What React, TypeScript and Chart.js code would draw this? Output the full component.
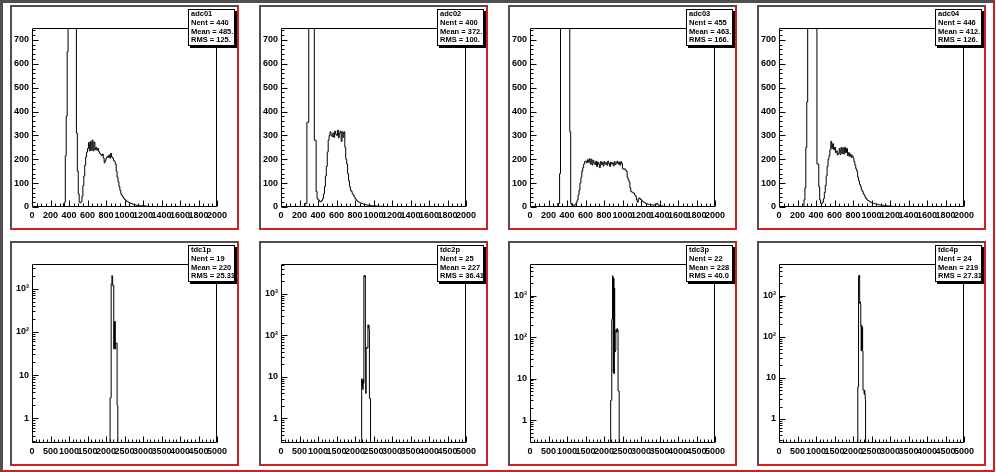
import React, { useEffect, useRef } from "react";
import { Chart, registerables } from "chart.js";

Chart.register(...registerables);

// ---------- data ----------
const BIN_WIDTH = 10;

const ADC_X_MIN = 0;
const ADC_X_MAX = 2000;
const ADC_Y_MIN = 0;
const ADC_Y_MAX = 750;
const ADC_X_TICKS = [0, 200, 400, 600, 800, 1000, 1200, 1400, 1600, 1800, 2000];
const ADC_Y_TICKS = [0, 100, 200, 300, 400, 500, 600, 700];
const ADC_X_MINOR_STEP = 50;
const ADC_Y_MINOR_STEP = 20;

const TDC_X_MIN = 0;
const TDC_X_MAX = 5000;
const TDC_X_TICKS = [0, 500, 1000, 1500, 2000, 2500, 3000, 3500, 4000, 4500, 5000];
const TDC_X_MINOR_STEP = 100;
const TDC_Y_TICKS = [1, 10, 100, 1000];
const TDC_Y_TICK_TEXT = ["1", "10", "10²", "10³"];
const TDC_Y_MIN = [0.27, 0.256, 0.28, 0.26];
const TDC_Y_MAX = [3700, 5250, 5750, 5850];

const ADC01_START = 340;
const ADC01 = [
  0, 15, 20, 215, 380, 650, 1200, 1800, 2300, 2500, 2400, 2100, 1700, 1300, 900, 310,
  150, 55, 20, 18, 22, 45, 90, 130, 175, 210, 230, 245, 270, 235, 275, 238, 280, 235,
  272, 240, 250, 238, 245, 232, 225, 220, 215, 222, 205, 185, 195, 205, 212, 208, 218,
  205, 225, 210, 205, 195, 190, 180, 150, 125, 105, 85, 70, 55, 47, 42, 36, 32, 28, 25,
  22, 20, 18, 16, 15, 13, 11, 10, 9, 8, 7, 7, 6, 6, 5, 5, 5, 4, 5, 4, 3, 3, 3, 2, 2, 2,
  2, 1, 2, 1, 1, 0,
];

const ADC02_START = 260;
const ADC02 = [
  0, 15, 15, 355, 355, 1500, 2200, 2600, 2500, 2000, 1400, 280, 280, 65, 35, 30, 28, 22,
  22, 28, 36, 55, 85, 130, 170, 230, 280, 300, 315, 300, 295, 310, 292, 318, 305, 300,
  322, 290, 310, 318, 275, 315, 292, 315, 250, 200, 180, 140, 110, 85, 70, 65, 55, 50,
  42, 35, 30, 26, 22, 20, 18, 16, 15, 13, 12, 11, 10, 9, 8, 8, 7, 6, 6, 5, 5, 5, 4, 5,
  4, 3, 3, 3, 2, 3, 2, 1, 1, 0,
];

const ADC03_START = 300;
const ADC03 = [
  0, 15, 15, 140, 1100, 1600, 2000, 2100, 2000, 1800, 1500, 1200, 1000, 800, 315, 15, 8,
  8, 7, 8, 12, 20, 30, 50, 70, 100, 125, 150, 165, 180, 190, 192, 185, 198, 188, 202,
  180, 200, 176, 195, 185, 178, 192, 170, 188, 180, 165, 190, 178, 188, 172, 190, 180,
  186, 175, 192, 182, 170, 188, 180, 185, 172, 190, 178, 185, 192, 180, 188, 175, 190,
  182, 160, 158, 160, 155, 150, 125, 115, 105, 80, 65, 62, 60, 58, 50, 45, 30, 20, 35,
  38, 32, 30, 25, 22, 20, 17, 15, 14, 12, 11, 11, 10, 9, 8, 8, 9, 10, 12, 15, 10, 7, 5,
  5, 4, 4, 3, 3, 2, 3, 2, 2, 1, 2, 1, 1, 0,
];

const ADC04_START = 270;
const ADC04 = [
  0, 30, 80, 250, 440, 1000, 1600, 2100, 2400, 2300, 2000, 1600, 1200, 900, 800, 180,
  180, 85, 30, 15, 15, 20, 35, 60, 90, 130, 170, 200, 215, 240, 275, 245, 265, 240, 250,
  228, 235, 218, 225, 245, 220, 250, 225, 248, 222, 250, 228, 245, 215, 228, 212, 222,
  208, 215, 205, 190, 175, 160, 150, 125, 110, 95, 85, 72, 65, 55, 50, 40, 35, 30, 27,
  25, 22, 20, 18, 16, 15, 14, 13, 12, 11, 10, 9, 9, 8, 8, 7, 6, 6, 5, 5, 5, 4, 4, 3, 3,
  3, 2, 2, 2, 2, 1, 2, 1, 1, 1, 0,
];

const TDC1_START = 2110;
const TDC1 = [0, 3, 3, 3, 1300, 1300, 2000, 1900, 1200, 1150, 1200, 40, 170, 45, 175, 40, 55, 55, 55, 55, 2, 2, 0];

const TDC2_START = 2180;
const TDC2 = [0, 9, 6, 8, 5, 9, 7, 2700, 2800, 2600, 2750, 38, 4, 50, 48, 52, 50, 50, 180, 150, 175, 140, 3, 3, 3, 0];

const TDC3_START = 2180;
const TDC3 = [0, 3, 3, 3, 260, 270, 3000, 2800, 14, 2600, 13, 1500, 46, 44, 48, 150, 145, 130, 160, 140, 150, 5, 5, 5, 0];

const TDC4_START = 2130;
const TDC4 = [0, 6, 6, 3000, 2900, 3100, 650, 700, 600, 180, 45, 190, 50, 170, 45, 5, 5, 5, 4, 5, 4, 3, 0];

const HIST_NAMES = ["adc01", "adc02", "adc03", "adc04", "tdc1p", "tdc2p", "tdc3p", "tdc4p"];
const HIST_ENTRIES = ["440", "400", "455", "446", "19", "25", "22", "24"];
const HIST_MEANS = ["485.", "372.", "463.", "412.", "220", "227", "228", "219"];
const HIST_RMS = ["125.", "100.", "166.", "126.", "25.31", "36.41", "40.0", "27.31"];

// ---------- layout / style ----------
const PAD_LEFT = [10, 259, 508, 757];
const PAD_TOP = [5, 241];
const PAD_W = 229;
const PAD_H = 225;
const FRAME_L = 22;
const FRAME_R = 22;
const FRAME_T = 23;
const FRAME_B = 23;
const GRAY = "#4f4f4f";
const RED = "#cf1f1f";
const FONT_FAMILY = "'Liberation Sans', Arial, Helvetica, sans-serif";

type PadSpec = {
  idx: number;
  log: boolean;
  start: number;
  values: number[];
  yMin: number;
  yMax: number;
};

const PADS: PadSpec[] = [
  { idx: 0, log: false, start: ADC01_START, values: ADC01, yMin: ADC_Y_MIN, yMax: ADC_Y_MAX },
  { idx: 1, log: false, start: ADC02_START, values: ADC02, yMin: ADC_Y_MIN, yMax: ADC_Y_MAX },
  { idx: 2, log: false, start: ADC03_START, values: ADC03, yMin: ADC_Y_MIN, yMax: ADC_Y_MAX },
  { idx: 3, log: false, start: ADC04_START, values: ADC04, yMin: ADC_Y_MIN, yMax: ADC_Y_MAX },
  { idx: 4, log: true, start: TDC1_START, values: TDC1, yMin: TDC_Y_MIN[0], yMax: TDC_Y_MAX[0] },
  { idx: 5, log: true, start: TDC2_START, values: TDC2, yMin: TDC_Y_MIN[1], yMax: TDC_Y_MAX[1] },
  { idx: 6, log: true, start: TDC3_START, values: TDC3, yMin: TDC_Y_MIN[2], yMax: TDC_Y_MAX[2] },
  { idx: 7, log: true, start: TDC4_START, values: TDC4, yMin: TDC_Y_MIN[3], yMax: TDC_Y_MAX[3] },
];

function HistPad({ spec }: { spec: PadSpec }) {
  const ref = useRef<HTMLCanvasElement>(null);
  const col = spec.idx % 4;
  const row = Math.floor(spec.idx / 4);

  useEffect(() => {
    const canvas = ref.current;
    if (!canvas) return;
    // empty bins on a log axis sit below the frame (clipped), like ROOT draws them
    const floor = spec.log ? spec.yMin / 10 : 0;
    const points = spec.values.map((v, i) => ({
      x: spec.start + i * BIN_WIDTH,
      y: v > 0 ? v : floor,
    }));
    points.push({ x: spec.start + spec.values.length * BIN_WIDTH, y: floor });

    const xMin = spec.log ? TDC_X_MIN : ADC_X_MIN;
    const xMax = spec.log ? TDC_X_MAX : ADC_X_MAX;
    const xTicks = spec.log ? TDC_X_TICKS : ADC_X_TICKS;
    const xMinorStep = spec.log ? TDC_X_MINOR_STEP : ADC_X_MINOR_STEP;
    const yTicks = spec.log ? TDC_Y_TICKS : ADC_Y_TICKS;

    const xMinor: number[] = [];
    for (let v = xMin; v <= xMax; v += xMinorStep) if (!xTicks.includes(v)) xMinor.push(v);
    const yMinor: number[] = [];
    if (spec.log) {
      for (let d = 0.1; d < spec.yMax; d *= 10)
        for (let m = 2; m <= 9; m++) {
          const v = m * d;
          if (v > spec.yMin && v < spec.yMax) yMinor.push(v);
        }
    } else {
      for (let v = spec.yMin; v <= spec.yMax; v += ADC_Y_MINOR_STEP) if (!yTicks.includes(v)) yMinor.push(v);
    }

    const framePlugin = {
      id: "rootFrame",
      afterDatasetsDraw(chart: any) {
        const { ctx, chartArea: a } = chart;
        const xs = chart.scales.x;
        const ys = chart.scales.y;
        const L = Math.round(a.left) + 0.5;
        const R = Math.round(a.right) - 0.5;
        const T = Math.round(a.top) + 0.5;
        const B = Math.round(a.bottom) - 0.5;
        ctx.save();
        ctx.strokeStyle = "#000";
        ctx.lineWidth = 1;
        ctx.beginPath();
        ctx.rect(L, T, R - L, B - T);
        const xt = (v: number, len: number) => {
          const p = Math.round(xs.getPixelForValue(v)) + 0.5;
          ctx.moveTo(p, B);
          ctx.lineTo(p, B - len);
        };
        const yt = (v: number, len: number) => {
          const p = Math.round(ys.getPixelForValue(v)) + 0.5;
          ctx.moveTo(L, p);
          ctx.lineTo(L + len, p);
        };
        xTicks.forEach((v) => xt(v, 6));
        xMinor.forEach((v) => xt(v, 3));
        yTicks.forEach((v) => yt(v, 6));
        yMinor.forEach((v) => yt(v, 3));
        ctx.stroke();
        ctx.restore();
      },
    };

    const tickFont = { family: FONT_FAMILY, size: 9, weight: "bold" as const };

    const chart = new Chart(canvas, {
      type: "line",
      data: {
        datasets: [
          {
            data: points,
            borderColor: "#000",
            borderWidth: 1,
            pointRadius: 0,
            stepped: "after",
            fill: false,
            tension: 0,
          },
        ],
      },
      options: {
        animation: false,
        responsive: false,
        events: [],
        layout: { padding: { left: 0, top: FRAME_T, right: FRAME_R, bottom: 0 } },
        plugins: {
          legend: { display: false },
          tooltip: { enabled: false },
          title: { display: false },
        },
        scales: {
          x: {
            type: "linear",
            min: xMin,
            max: xMax,
            grid: { display: false, drawTicks: false },
            border: { display: false },
            ticks: {
              autoSkip: false,
              maxRotation: 0,
              minRotation: 0,
              padding: 3,
              color: "#000",
              font: tickFont,
              callback: (v: any) => String(v),
            },
            afterBuildTicks: (s: any) => {
              s.ticks = xTicks.map((v) => ({ value: v }));
            },
            afterFit: (s: any) => {
              s.height = FRAME_B;
              s.paddingLeft = 0;
              s.paddingRight = 0;
            },
          },
          y: {
            type: spec.log ? "logarithmic" : "linear",
            min: spec.yMin,
            max: spec.yMax,
            grid: { display: false, drawTicks: false },
            border: { display: false },
            ticks: {
              autoSkip: false,
              padding: 3,
              color: "#000",
              font: tickFont,
              callback: (v: any) => {
                if (spec.log) {
                  const i = TDC_Y_TICKS.indexOf(Number(v));
                  return i >= 0 ? TDC_Y_TICK_TEXT[i] : "";
                }
                return String(v);
              },
            },
            afterBuildTicks: (s: any) => {
              s.ticks = yTicks.map((v) => ({ value: v }));
            },
            afterFit: (s: any) => {
              s.width = FRAME_L;
              s.paddingTop = 0;
              s.paddingBottom = 0;
            },
          },
        },
      } as any,
      plugins: [framePlugin],
    } as any);
    return () => chart.destroy();
  }, []);

  const lines = [
    HIST_NAMES[spec.idx],
    "Nent = " + HIST_ENTRIES[spec.idx],
    "Mean = " + HIST_MEANS[spec.idx],
    "RMS = " + HIST_RMS[spec.idx],
  ];

  return (
    <div
      style={{
        position: "absolute",
        left: PAD_LEFT[col],
        top: PAD_TOP[row],
        width: PAD_W,
        height: PAD_H,
        background: "#fff",
      }}
    >
      <canvas
        ref={ref}
        width={PAD_W}
        height={PAD_H}
        style={{ position: "absolute", left: 0, top: 0, width: PAD_W, height: PAD_H }}
      />
      <div
        style={{
          position: "absolute",
          left: 0,
          top: 0,
          width: PAD_W,
          height: PAD_H,
          boxSizing: "border-box",
          borderTop: `2px solid ${GRAY}`,
          borderLeft: `2px solid ${GRAY}`,
          borderRight: `2px solid ${RED}`,
          borderBottom: `2px solid ${RED}`,
          pointerEvents: "none",
        }}
      />
      <div
        style={{
          position: "absolute",
          left: 178,
          top: 4,
          width: 47,
          height: 37,
          boxSizing: "border-box",
          background: "#fff",
          border: "1px solid #000",
          boxShadow: "2px 2px 0 #000",
          overflow: "hidden",
          fontFamily: FONT_FAMILY,
          fontWeight: "bold",
          fontSize: "7.5px",
          color: "#000",
        }}
      >
        {lines.map((t, i) => (
          <div
            key={i}
            style={{ height: 8.75, lineHeight: "8.75px", paddingLeft: 2, whiteSpace: "nowrap" }}
          >
            {t}
          </div>
        ))}
      </div>
    </div>
  );
}

export default function App() {
  useEffect(() => {
    document.body.style.margin = "0";
  }, []);
  return (
    <div
      style={{
        position: "fixed",
        left: 0,
        top: 0,
        width: 996,
        height: 472,
        background: "#fff",
        overflow: "hidden",
      }}
    >
      <div
        style={{
          position: "absolute",
          left: 0,
          top: 0,
          width: 995,
          height: 472,
          boxSizing: "border-box",
          borderTop: `3px solid ${GRAY}`,
          borderLeft: `3px solid ${GRAY}`,
          borderRight: `2px solid ${RED}`,
          borderBottom: `2px solid ${RED}`,
        }}
      />
      {PADS.map((p) => (
        <HistPad key={p.idx} spec={p} />
      ))}
    </div>
  );
}
